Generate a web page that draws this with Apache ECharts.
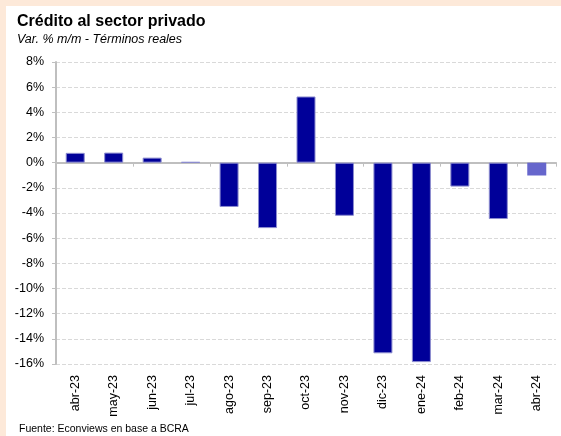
<!DOCTYPE html>
<html>
<head>
<meta charset="utf-8">
<script src="https://cdn.jsdelivr.net/npm/echarts@6/dist/echarts.min.js"></script>
<style>
  html, body { margin: 0; padding: 0; background: #fde9d9; }
  #frame { position: absolute; left: 6px; top: 6px; width: 555px; height: 430px; background: #ffffff; }
  #chart { position: absolute; left: -6px; top: -6px; width: 561px; height: 436px; }
</style>
</head>
<body>
<div id="frame"><div id="chart"></div></div>
<script>
// Monthly real change in private-sector credit (% m/m)
const months = ['abr-23','may-23','jun-23','jul-23','ago-23','sep-23','oct-23','nov-23','dic-23','ene-24','feb-24','mar-24','abr-24'];
const values = [0.78, 0.8, 0.4, 0.05, -3.52, -5.2, 5.26, -4.22, -15.15, -15.85, -1.9, -4.48, -1.02];
const yTicks = { min: -16, max: 8, step: 2 };
const lastIsEstimate = true;

const barColor = '#000099';
const estColor = '#6666cc';

const chart = echarts.init(document.getElementById('chart'), null, { renderer: 'canvas' });
const font = '"Liberation Sans", Arial, sans-serif';

chart.setOption({
  backgroundColor: 'transparent',
  animation: false,
  title: [
    { text: 'Crédito al sector privado', left: 12, top: 9,
      textStyle: { fontFamily: font, fontSize: 16, fontWeight: 'bold', color: '#000' } },
    { text: 'Var. % m/m - Términos reales', left: 12, top: 28,
      textStyle: { fontFamily: font, fontSize: 12.5, fontStyle: 'italic', fontWeight: 'normal', color: '#000' } },
    { text: 'Fuente: Econviews en base a BCRA', left: 14, top: 419,
      textStyle: { fontFamily: font, fontSize: 10.5, fontWeight: 'normal', color: '#000' } }
  ],
  grid: { left: 56, right: 5, top: 62, bottom: 72 },
  xAxis: [
    {
      type: 'category', data: months, position: 'bottom',
      axisLine: { onZero: true, lineStyle: { color: '#bfbfbf', width: 2 } },
      axisTick: { show: true, length: 4, alignWithLabel: false, lineStyle: { color: '#bfbfbf' } },
      axisLabel: { show: false }
    },
    {
      type: 'category', data: months, position: 'bottom',
      axisLine: { show: false }, axisTick: { show: false },
      axisLabel: { rotate: 90, margin: 11, fontFamily: font, fontSize: 12.5, color: '#000' }
    }
  ],
  yAxis: {
    type: 'value', min: yTicks.min, max: yTicks.max, interval: yTicks.step,
    axisLine: { show: true, lineStyle: { color: '#bfbfbf', width: 2 } },
    axisTick: { show: true, length: 4, lineStyle: { color: '#bfbfbf' } },
    axisLabel: { formatter: '{value}%', margin: 12, fontFamily: font, fontSize: 12.5, color: '#000' },
    splitLine: { show: true, lineStyle: { color: '#d9d9d9', type: [4, 2], width: 1 } }
  },
  series: [{
    type: 'bar', xAxisIndex: 0, barWidth: 19,
    data: values.map((v, i) => {
      const est = lastIsEstimate && i === values.length - 1;
      return {
        value: v,
        itemStyle: est
          ? { color: estColor, borderWidth: 0 }
          : { color: barColor, borderColor: '#8c8ccf', borderWidth: 1 }
      };
    })
  }]
});
</script>
</body>
</html>
